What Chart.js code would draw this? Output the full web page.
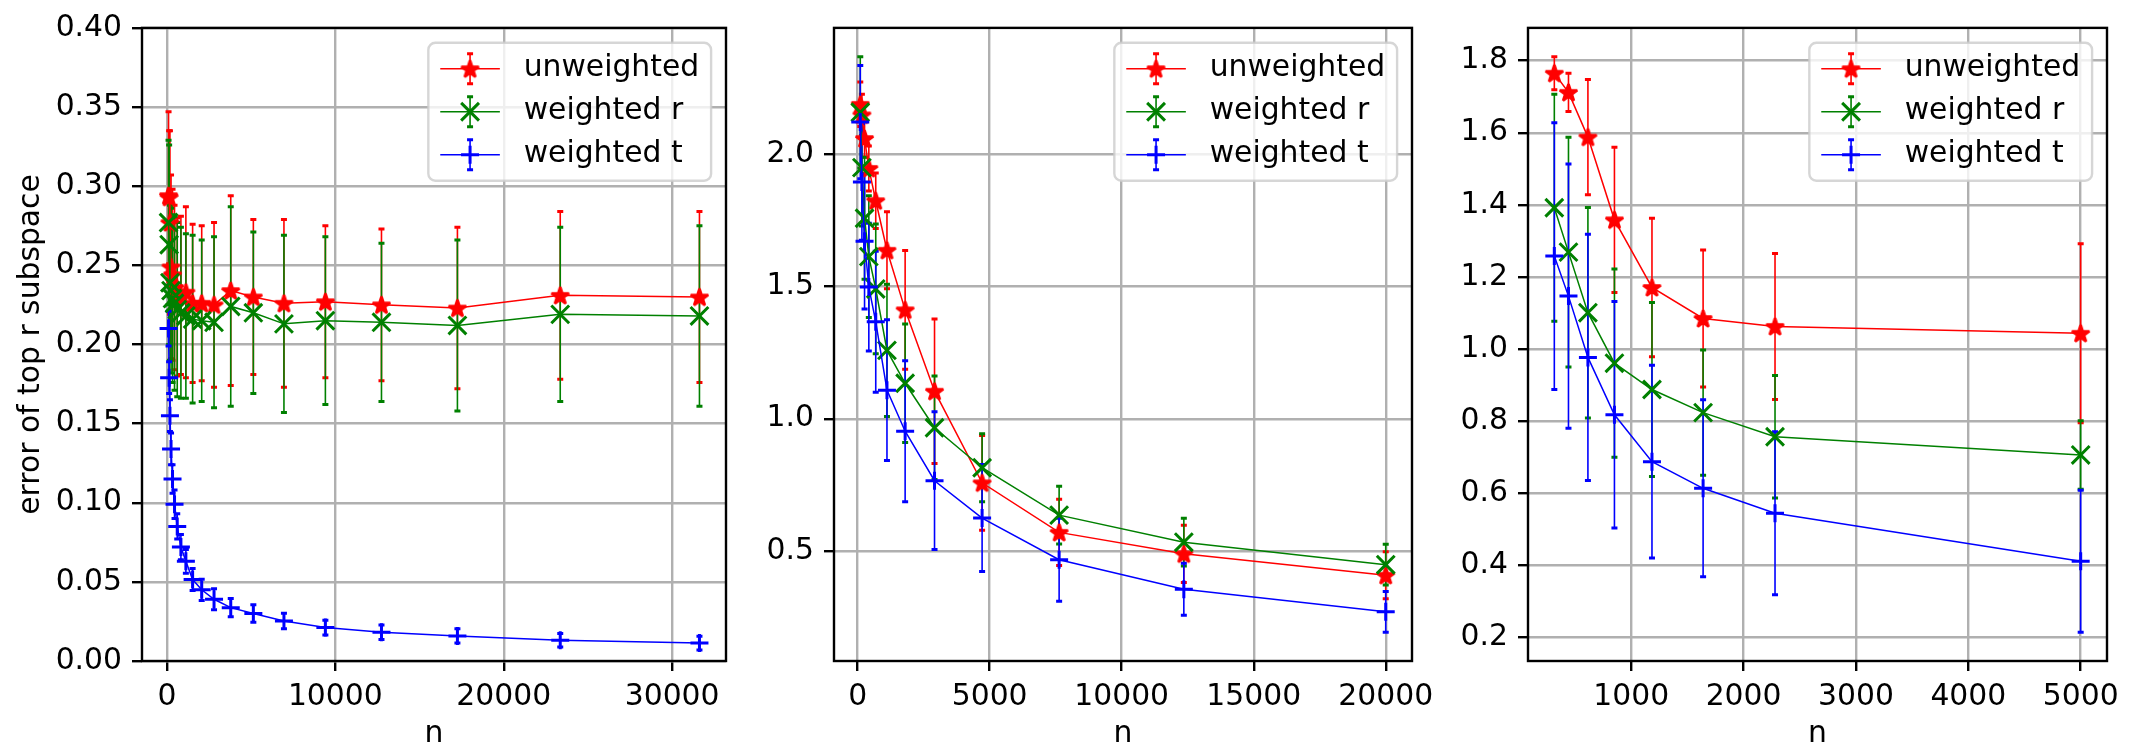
<!DOCTYPE html>
<html>
<head>
<meta charset="utf-8">
<script src="https://cdn.jsdelivr.net/npm/chart.js@4.4.1/dist/chart.umd.min.js"></script>
<style>
  body { margin: 0; background: #fff; }
  #wrap { position: relative; width: 2138px; height: 745px; overflow: hidden; }
  canvas { position: absolute; top: 0; }
</style>
</head>
<body>
<div id="wrap">
  <canvas id="c1" width="760" height="745" style="left:0px"></canvas>
  <canvas id="c2" width="690" height="745" style="left:760px"></canvas>
  <canvas id="c3" width="688" height="745" style="left:1450px"></canvas>
</div>
<script>
const seriesNames = ['unweighted', 'weighted r', 'weighted t'];
const seriesColors = ['#ff0000', '#008000', '#0000ff'];

// left panel
const n1 = [100, 135, 183, 248, 336, 455, 616, 834, 1129, 1529, 2069, 2801, 3793, 5135, 6952, 9412, 12743, 17252, 23357, 31623];
const unweighted1 = [0.294, 0.293, 0.277, 0.249, 0.244, 0.236, 0.230, 0.231, 0.233, 0.226, 0.226, 0.225, 0.234, 0.230, 0.226, 0.227, 0.225, 0.223, 0.231, 0.230];
const unweighted1Err = [0.053, 0.042, 0.058, 0.058, 0.054, 0.052, 0.050, 0.050, 0.054, 0.050, 0.049, 0.052, 0.060, 0.049, 0.053, 0.048, 0.048, 0.051, 0.053, 0.054];
const weightedR1 = [0.277, 0.263, 0.239, 0.234, 0.229, 0.226, 0.222, 0.220, 0.218, 0.216, 0.215, 0.214, 0.224, 0.220, 0.213, 0.215, 0.214, 0.212, 0.219, 0.218];
const weightedR1Err = [0.052, 0.063, 0.049, 0.052, 0.053, 0.055, 0.055, 0.054, 0.052, 0.053, 0.051, 0.054, 0.063, 0.051, 0.056, 0.053, 0.050, 0.054, 0.055, 0.057];
const weightedT1 = [0.210, 0.179, 0.155, 0.134, 0.115, 0.099, 0.085, 0.072, 0.063, 0.0515, 0.045, 0.039, 0.0337, 0.030, 0.0253, 0.0211, 0.0182, 0.0158, 0.0131, 0.0113];
const weightedT1Err = [0.011, 0.010, 0.010, 0.010, 0.009, 0.009, 0.008, 0.008, 0.0075, 0.007, 0.0067, 0.0066, 0.0058, 0.0055, 0.0049, 0.0046, 0.0046, 0.0045, 0.0042, 0.0043];
const xTicks1 = [0, 10000, 20000, 30000];
const yTicks1 = [0, 0.05, 0.10, 0.15, 0.20, 0.25, 0.30, 0.35, 0.40];

// middle panel
const n2 = [100, 162, 262, 424, 686, 1111, 1799, 2912, 4714, 7631, 12354, 20000];
const unweighted2 = [2.187, 2.147, 2.058, 1.945, 1.823, 1.636, 1.411, 1.104, 0.758, 0.571, 0.490, 0.409];
const unweighted2Err = [0.084, 0.078, 0.070, 0.085, 0.105, 0.145, 0.224, 0.273, 0.179, 0.125, 0.108, 0.089];
const weightedR2 = [2.157, 1.948, 1.757, 1.612, 1.490, 1.258, 1.134, 0.966, 0.815, 0.636, 0.534, 0.449];
const weightedR2Err = [0.210, 0.220, 0.230, 0.230, 0.245, 0.250, 0.224, 0.195, 0.128, 0.109, 0.090, 0.077];
const weightedT2 = [2.120, 1.894, 1.670, 1.497, 1.366, 1.108, 0.953, 0.766, 0.625, 0.4675, 0.356, 0.271];
const weightedT2Err = [0.214, 0.220, 0.256, 0.241, 0.266, 0.266, 0.266, 0.260, 0.202, 0.157, 0.098, 0.077];
const xTicks2 = [0, 5000, 10000, 15000, 20000];
const yTicks2 = [0.5, 1.0, 1.5, 2.0];

// right panel
const n3 = [316, 442, 615, 851, 1185, 1640, 2280, 5000];
const unweighted3 = [1.765, 1.712, 1.588, 1.3585, 1.171, 1.085, 1.063, 1.044];
const unweighted3Err = [0.046, 0.053, 0.160, 0.2015, 0.192, 0.190, 0.2025, 0.248];
const weightedR3 = [1.392, 1.269, 1.101, 0.961, 0.888, 0.824, 0.757, 0.7065];
const weightedR3Err = [0.315, 0.3185, 0.292, 0.261, 0.241, 0.1735, 0.170, 0.095];
const weightedT3 = [1.258, 1.147, 0.977, 0.818, 0.688, 0.614, 0.545, 0.412];
const weightedT3Err = [0.370, 0.3665, 0.3415, 0.314, 0.2675, 0.2455, 0.226, 0.197];
const xTicks3 = [1000, 2000, 3000, 4000, 5000];
const yTicks3 = [0.2, 0.4, 0.6, 0.8, 1.0, 1.2, 1.4, 1.6, 1.8];

const FS = 29.8;
Chart.defaults.font.family = "'DejaVu Sans'";
Chart.defaults.color = '#000';

function makeStar(color, r) {
  const c = document.createElement('canvas');
  const s = Math.ceil(r * 2 + 6);
  c.width = s; c.height = s;
  const g = c.getContext('2d');
  g.translate(s / 2, s / 2 + 0.8);
  g.beginPath();
  for (let i = 0; i < 10; i++) {
    const rr = i % 2 ? r * 0.382 : r;
    const a = -Math.PI / 2 + i * Math.PI / 5;
    g.lineTo(rr * Math.cos(a), rr * Math.sin(a));
  }
  g.closePath();
  g.fillStyle = color;
  g.fill();
  g.lineWidth = 2.6;
  g.lineJoin = 'bevel';
  g.strokeStyle = color;
  g.stroke();
  return c;
}

const starImg = makeStar(seriesColors[0], 9.2);
const markers = [starImg, 'crossRot', 'cross'];
const markerRadius = [9, 12.6, 9];

function paddedRange(lo, hi) {
  const m = (hi - lo) * 0.05;
  return [lo - m, hi + m];
}

function drawErrorBar(ctx, px, top, bot) {
  ctx.lineWidth = 1.6;
  ctx.beginPath();
  ctx.moveTo(px, top); ctx.lineTo(px, bot);
  ctx.stroke();
  ctx.lineWidth = 3;
  ctx.beginPath();
  ctx.moveTo(px - 3, top); ctx.lineTo(px + 3, top);
  ctx.moveTo(px - 3, bot); ctx.lineTo(px + 3, bot);
  ctx.stroke();
}

function drawMarker(ctx, s, x, y) {
  if (s === 0) {
    ctx.drawImage(starImg, x - starImg.width / 2, y - starImg.height / 2);
    return;
  }
  const r = markerRadius[s];
  const rot = s === 1 ? Math.PI / 4 : 0;
  ctx.lineWidth = 3;
  ctx.beginPath();
  for (let k = 0; k < 2; k++) {
    const a = rot + k * Math.PI / 2;
    ctx.moveTo(x - r * Math.cos(a), y - r * Math.sin(a));
    ctx.lineTo(x + r * Math.cos(a), y + r * Math.sin(a));
  }
  ctx.stroke();
}

// error bars go under every line, as in the original
const errorBars = {
  id: 'errorBars',
  beforeDatasetsDraw(chart) {
    const {ctx, chartArea: a, scales: {x, y}} = chart;
    ctx.save();
    ctx.beginPath();
    ctx.rect(a.left, a.top, a.right - a.left, a.bottom - a.top);
    ctx.clip();
    chart.data.datasets.forEach(ds => {
      ctx.strokeStyle = ds.borderColor;
      ds.data.forEach((p, i) => {
        const px = x.getPixelForValue(p.x);
        drawErrorBar(ctx, px, y.getPixelForValue(p.y + ds.errors[i]), y.getPixelForValue(p.y - ds.errors[i]));
      });
    });
    ctx.restore();
    ctx.save();
    ctx.strokeStyle = '#000';
    ctx.lineWidth = 2.4;
    ctx.strokeRect(a.left, a.top, a.right - a.left, a.bottom - a.top);
    ctx.restore();
  }
};

const boxLegend = {
  id: 'boxLegend',
  afterDraw(chart) {
    const {ctx, chartArea: a} = chart;
    ctx.save();
    ctx.font = FS + "px 'DejaVu Sans'";
    const tw = Math.max(...seriesNames.map(t => ctx.measureText(t).width));
    const pad = 0.4 * FS, handle = 2 * FS, gap = 0.8 * FS, rowH = 28.1, spacing = 0.5 * FS;
    const w = pad * 2 + handle + gap + tw;
    const h = pad * 2 + 3 * rowH + 2 * spacing;
    const x0 = a.right - 0.5 * FS - w;
    const y0 = a.top + 0.5 * FS;
    ctx.beginPath();
    ctx.roundRect(x0, y0, w, h, 7);
    ctx.fillStyle = 'rgba(255,255,255,0.8)';
    ctx.fill();
    ctx.strokeStyle = 'rgba(204,204,204,0.8)';
    ctx.lineWidth = 2.4;
    ctx.stroke();
    seriesNames.forEach((name, s) => {
      const cy = y0 + pad + rowH / 2 + s * (rowH + spacing);
      const cx = x0 + pad + handle / 2;
      ctx.strokeStyle = seriesColors[s];
      ctx.lineWidth = 1.5;
      ctx.beginPath();
      ctx.moveTo(x0 + pad, cy); ctx.lineTo(x0 + pad + handle, cy);
      ctx.stroke();
      drawErrorBar(ctx, cx, cy - 0.5 * FS, cy + 0.5 * FS);
      drawMarker(ctx, s, cx, cy);
      ctx.fillStyle = '#000';
      ctx.textBaseline = 'middle';
      ctx.textAlign = 'left';
      ctx.fillText(name, x0 + pad + handle + gap, cy);
    });
    ctx.restore();
  }
};

function makePanel(id, n, means, errs, cfg) {
  const datasets = means.map((m, s) => ({
    label: seriesNames[s],
    data: n.map((x, i) => ({x: x, y: m[i]})),
    errors: errs[s],
    borderColor: seriesColors[s],
    backgroundColor: seriesColors[s],
    borderWidth: 1.5,
    pointStyle: markers[s],
    pointRadius: markerRadius[s],
    pointBorderWidth: 3,
    pointBorderColor: seriesColors[s],
    pointBackgroundColor: seriesColors[s],
    order: 3 - s,
    tension: 0
  }));

  const xr = paddedRange(Math.min(...n), Math.max(...n));
  let yr = cfg.yRange;
  if (!yr) {
    const lows = means.flatMap((m, s) => m.map((v, i) => v - errs[s][i]));
    const highs = means.flatMap((m, s) => m.map((v, i) => v + errs[s][i]));
    yr = paddedRange(Math.min(...lows), Math.max(...highs));
  }

  const tickFont = {size: FS};
  const grid = {color: '#b0b0b0', lineWidth: 2.4, tickColor: '#000', tickWidth: 2.4, tickLength: 10};

  return new Chart(document.getElementById(id), {
    type: 'line',
    data: {datasets: datasets},
    options: {
      responsive: false,
      animation: false,
      devicePixelRatio: 1,
      events: [],
      layout: {padding: {top: 21, right: cfg.rightPad, bottom: 0, left: 0}},
      plugins: {legend: {display: false}, tooltip: {enabled: false}},
      scales: {
        x: {
          type: 'linear',
          min: xr[0],
          max: xr[1],
          afterBuildTicks: axis => { axis.ticks = cfg.xTicks.map(v => ({value: v})); },
          afterFit: s => { s.height = 84; },
          ticks: {font: tickFont, padding: 8, autoSkip: false, maxRotation: 0, callback: v => String(v)},
          grid: grid,
          border: {display: false},
          title: {display: true, text: 'n', font: {size: FS, lineHeight: 0.75}, padding: 0}
        },
        y: {
          type: 'linear',
          min: yr[0],
          max: yr[1],
          afterBuildTicks: axis => { axis.ticks = cfg.yTicks.map(v => ({value: v})); },
          afterFit: s => { s.width = cfg.yWidth; },
          ticks: {font: tickFont, padding: 10, autoSkip: false, callback: v => v.toFixed(cfg.yDigits)},
          grid: grid,
          border: {display: false},
          title: {display: !!cfg.yTitle, text: cfg.yTitle || '', font: {size: FS, lineHeight: 1}, padding: {top: 16, bottom: 0}}
        }
      }
    },
    plugins: [errorBars, boxLegend]
  });
}

makePanel('c1', n1,
  [unweighted1, weightedR1, weightedT1],
  [unweighted1Err, weightedR1Err, weightedT1Err],
  {xTicks: xTicks1, yTicks: yTicks1, yDigits: 2, yRange: [0, 0.4], yWidth: 142, rightPad: 34, yTitle: 'error of top r subspace'});

makePanel('c2', n2,
  [unweighted2, weightedR2, weightedT2],
  [unweighted2Err, weightedR2Err, weightedT2Err],
  {xTicks: xTicks2, yTicks: yTicks2, yDigits: 1, yWidth: 74, rightPad: 38});

makePanel('c3', n3,
  [unweighted3, weightedR3, weightedT3],
  [unweighted3Err, weightedR3Err, weightedT3Err],
  {xTicks: xTicks3, yTicks: yTicks3, yDigits: 1, yWidth: 78, rightPad: 31});
</script>
</body>
</html>
